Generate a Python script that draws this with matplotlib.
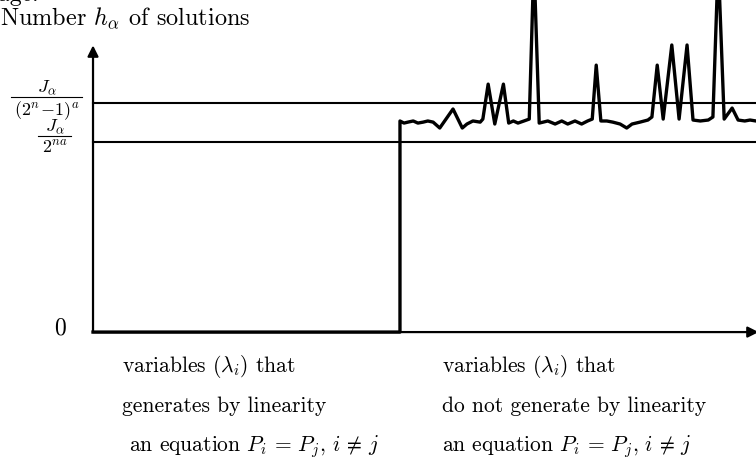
import matplotlib.pyplot as plt

plt.rcParams['mathtext.fontset'] = 'cm'
plt.rcParams['font.family'] = 'cmr10'
plt.rcParams['axes.formatter.use_mathtext'] = True

# variables (lambda_i), scaled to 0..100 along the horizontal axis
lam = [0, 46.3, 46.3, 46.9, 47.5, 48.3, 49.0, 49.8, 50.5, 51.3, 52.3, 54.3,
       55.7, 56.4, 57.3, 58.4, 58.8, 59.6, 60.6, 61.9, 62.7, 63.4, 64.1,
       65.0, 65.8, 66.5, 67.3, 67.9, 68.6, 69.7, 70.7, 71.6, 72.7, 73.7,
       74.6, 75.3, 75.9, 76.6, 77.5, 78.4, 79.5, 80.5, 81.3, 82.5, 83.7,
       84.3, 85.1, 86.0, 87.3, 88.4, 89.6, 90.5, 91.6, 92.8, 93.5, 94.3,
       95.2, 96.4, 97.3, 98.3, 99.1, 100.0]
# number of solutions h_alpha, in units of J_alpha / 2^(na)
h = [0, 0, 1.111, 1.100, 1.105, 1.111, 1.100, 1.105, 1.111, 1.105, 1.074,
     1.174, 1.074, 1.095, 1.111, 1.105, 1.121, 1.305, 1.095, 1.305, 1.100,
     1.111, 1.100, 1.111, 1.121, 1.95, 1.100, 1.105, 1.111, 1.095, 1.111,
     1.095, 1.111, 1.095, 1.111, 1.121, 1.405, 1.111, 1.111, 1.105, 1.095,
     1.074, 1.095, 1.105, 1.116, 1.132, 1.405, 1.121, 1.511, 1.121, 1.511,
     1.116, 1.111, 1.116, 1.132, 1.95, 1.121, 1.179, 1.116, 1.111, 1.116,
     1.111]

levels = [1.0, 1.205]
numerators = [r'$J_\alpha$', r'$J_\alpha$']
denominators = [r'$2^{na}$', r'$(2^n\!-\!1)^a$']

fig = plt.figure(figsize=(7.56, 4.60), dpi=100)
ax = fig.add_axes([0, 0, 1, 1])
ax.set_xlim(-14.03, 100)
ax.set_ylim(-0.668, 1.753)
ax.axis('off')

# axes with arrows
ax.annotate('', xy=(0, 1.509), xytext=(0, 0), annotation_clip=False,
            arrowprops=dict(arrowstyle='-|>', lw=1.6, color='black',
                            mutation_scale=16, shrinkA=0, shrinkB=0))
ax.annotate('', xy=(100.4, 0), xytext=(0, 0), annotation_clip=False,
            arrowprops=dict(arrowstyle='-|>', lw=1.6, color='black',
                            mutation_scale=16, shrinkA=0, shrinkB=0))

for lev in levels:
    ax.plot([0, 101], [lev, lev], color='black', lw=1.5)

# fraction labels: numerator, bar, denominator
frac_x = [-5.75, -7.0]
bar_half = [2.5, 5.4]
bar_y = [1.032, 1.237]
num_y = [1.064, 1.266]
den_y = [0.945, 1.148]
for xc, hw, by, ny, dy, num, den in zip(frac_x, bar_half, bar_y, num_y, den_y,
                                        numerators, denominators):
    ax.plot([xc - hw, xc + hw], [by, by], color='black', lw=0.8)
    ax.text(xc, ny, num, fontsize=13, ha='center', va='baseline')
    ax.text(xc, dy, den, fontsize=13, ha='center', va='baseline')

ax.text(-5.0, 0.026, '0', fontsize=17, ha='center', va='center')

ax.plot(lam, h, color='black', lw=2.4, solid_joinstyle='round', zorder=3)

ax.text(-14.3, 1.75, 'age.', fontsize=17, ha='left', va='baseline')
ax.text(-14.1, 1.621, r'Number $h_\alpha$ of solutions', fontsize=17.5,
        ha='left', va='baseline')

left_txt = ['variables $(\\lambda_i)$ that', 'generates by linearity',
            ' an equation $P_i \\,=\\, P_j,\\, i \\,\\neq\\, j$']
right_txt = ['variables $(\\lambda_i)$ that', 'do not generate by linearity',
             'an equation $P_i \\,=\\, P_j,\\, i \\,\\neq\\, j$']
rows = [-0.205, -0.416, -0.621]
for y, lt, rt in zip(rows, left_txt, right_txt):
    ax.text(4.4, y, lt, fontsize=15.5, ha='left', va='baseline')
    ax.text(52.6, y, rt, fontsize=15.5, ha='left', va='baseline')

fig.savefig('out.png', dpi=100)
